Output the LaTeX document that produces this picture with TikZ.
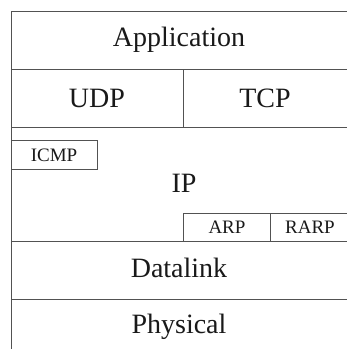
\documentclass[tikz,border=0pt]{standalone}
\usepackage{fontspec}
\setmainfont{Liberation Serif}
\begin{document}
\begin{tikzpicture}[x=1pt,y=-1pt,
  rule/.style={draw=black!68,line width=0.9pt},
  layer/.style={font=\fontsize{28}{30}\selectfont,inner sep=0pt,text=black!90},
  proto/.style={font=\fontsize{19}{21}\selectfont,inner sep=0pt,text=black!90}]
\useasboundingbox (0,0) rectangle (347,349);
% outer frame: left edge and layer boundaries (right side open)
\draw[rule] (347,11) -- (11,11) -- (11,349);
\foreach \yy in {69,127,241,299}
  \draw[rule] (11,\yy) -- (347,\yy);
% transport split
\draw[rule] (183,69) -- (183,127);
% ICMP box on the left of the IP layer
\draw[rule] (11,140) -- (97,140) -- (97,169) -- (11,169);
% ARP / RARP boxes at the bottom right of the IP layer
\draw[rule] (183,241) -- (183,213) -- (347,213);
\draw[rule] (270,213) -- (270,241);
% labels
\node[layer] (app)  at (179,40)  {Application};
\node[layer] (udp)  at (97,98)   {UDP};
\node[layer] (tcp)  at (265,98)  {TCP};
\node[layer] (ip)   at (184,183) {IP};
\node[proto] (icmp) at (54,155)  {ICMP};
\node[proto] (arp)  at (227,227) {ARP};
\node[proto] (rarp) at (310,227) {RARP};
\node[layer] (dl)   at (179,268) {Datalink};
\node[layer] (phy)  at (179,327) {Physical};
\end{tikzpicture}
\end{document}
